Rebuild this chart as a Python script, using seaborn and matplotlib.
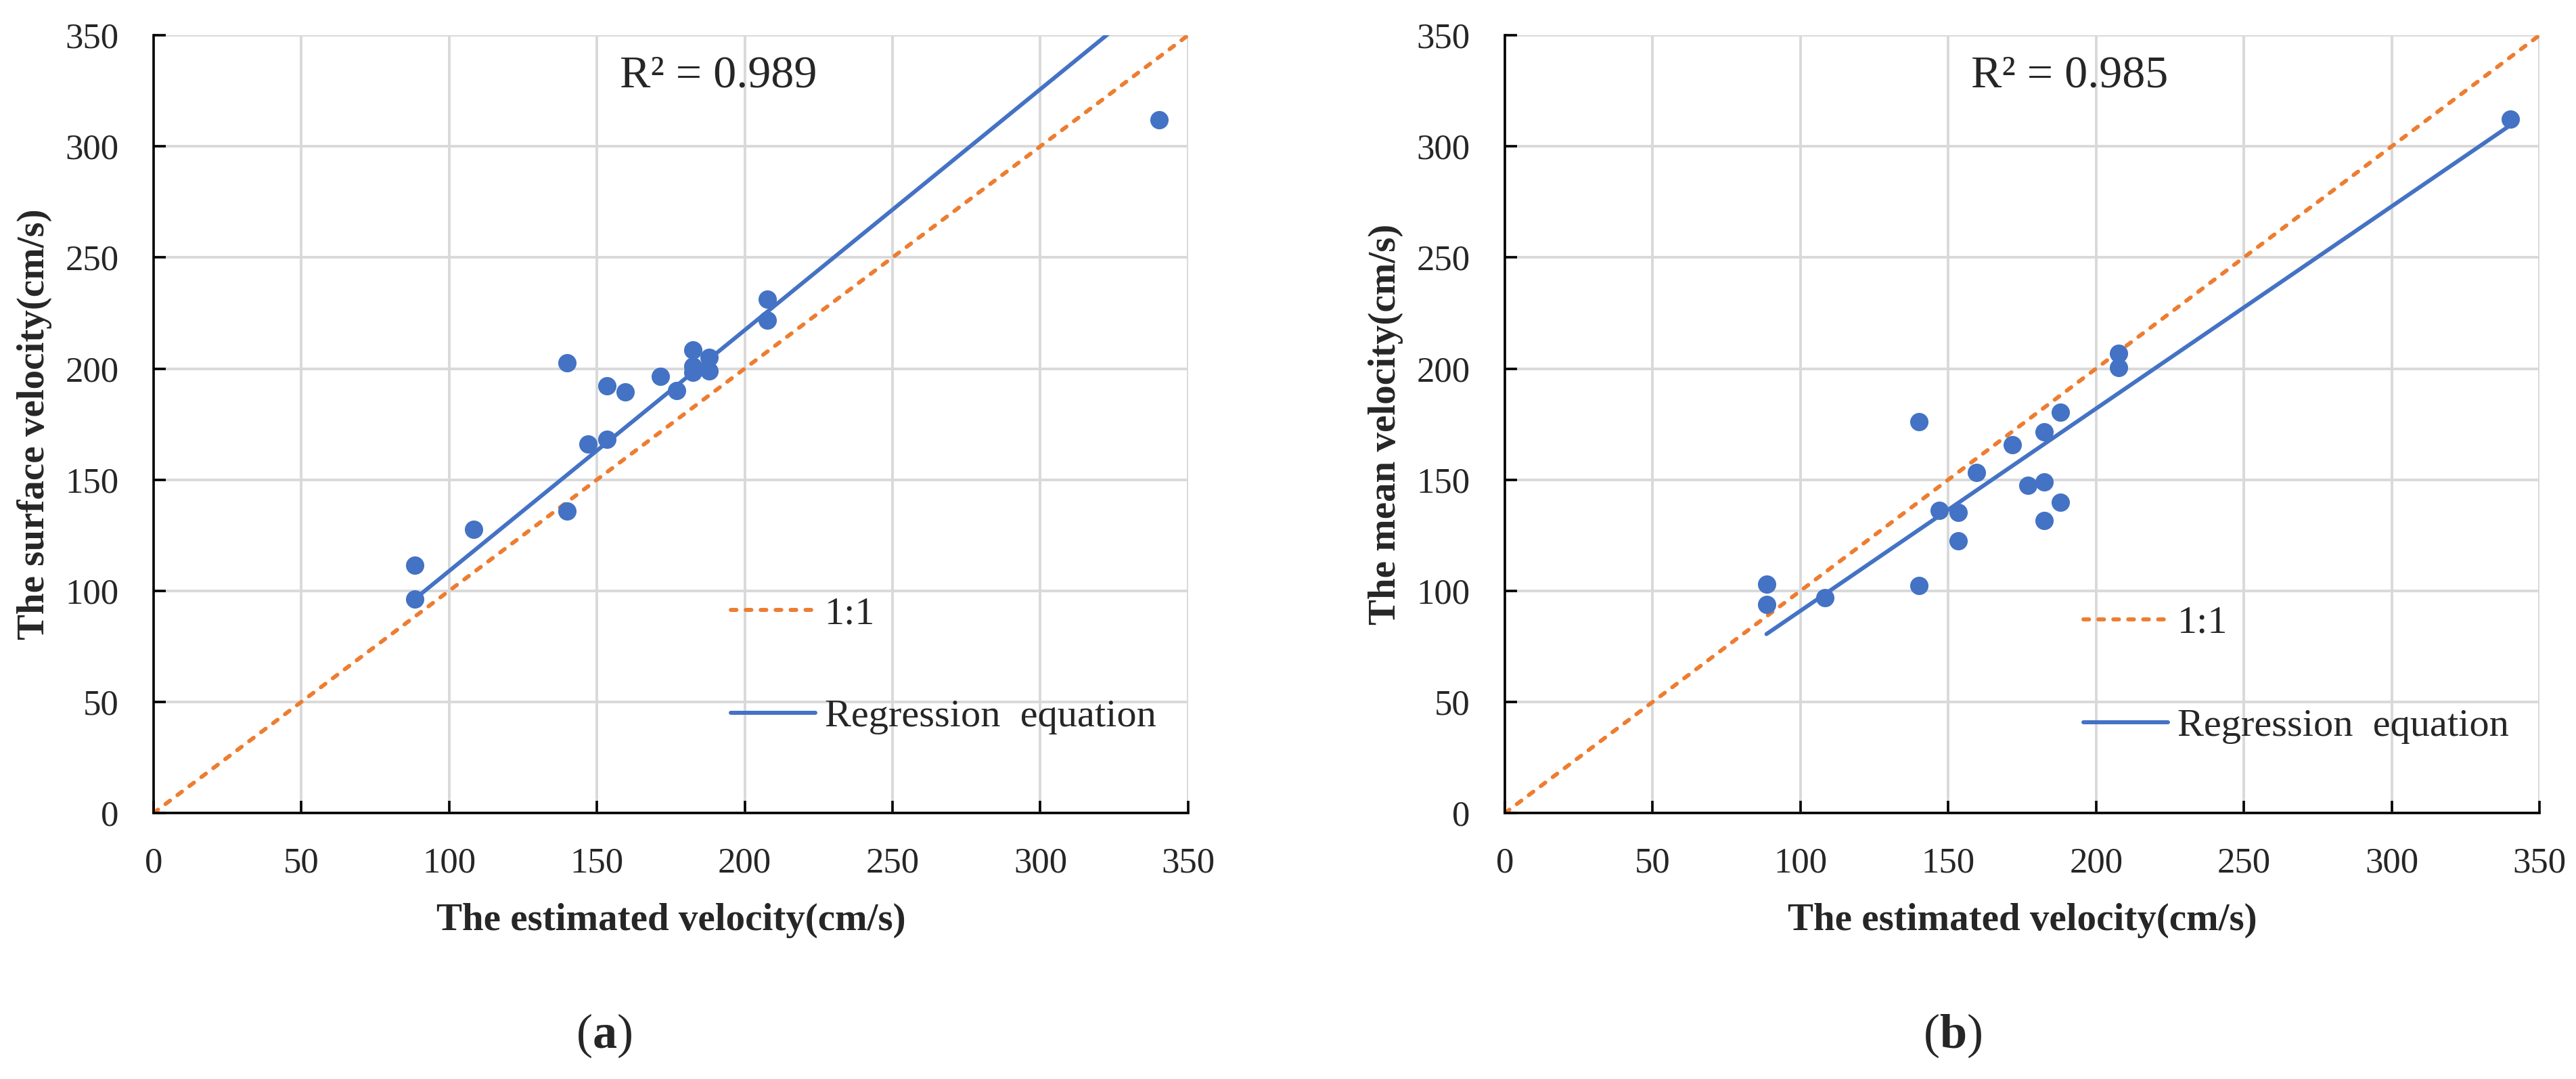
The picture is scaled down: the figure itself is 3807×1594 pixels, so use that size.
"""
Two scatter panels: estimated velocity vs. surface / mean velocity,
with a 1:1 reference line and the fitted regression line.
"""

import matplotlib.pyplot as plt
import numpy as np
import pandas as pd
import seaborn as sns

# ---- data ----
estimated = [88.5, 88.5, 108.2, 140.0, 140.0, 147.0, 153.3, 153.3, 159.5,
             171.6, 177.0, 182.5, 182.5, 182.5, 188.0, 188.0, 207.6, 207.6, 340.1]
surface = [111.5, 96.4, 127.6, 135.9, 202.7, 165.9, 168.1, 192.2, 189.6,
           196.6, 190.2, 208.3, 201.2, 198.3, 205.1, 199.0, 231.3, 221.8, 312.1]
mean = [102.9, 93.8, 96.8, 102.4, 176.1, 136.1, 135.2, 122.4, 153.1,
        165.8, 147.6, 171.4, 149.1, 131.5, 180.4, 139.8, 207.0, 200.4, 312.3]

# regression lines as drawn (slope, intercept)
trend_a = (1.084, 0.5)
trend_b = (0.910, 0.0)
r2_a = 0.989
r2_b = 0.985

axis_ticks = [0, 50, 100, 150, 200, 250, 300, 350]

BLUE = "#4472C4"
ORANGE = "#ED7D31"
GRID = "#D9D9D9"

sns.set_style("whitegrid")
plt.rcParams["font.family"] = ["Liberation Serif", "DejaVu Serif"]
plt.rcParams["mathtext.fontset"] = "custom"
plt.rcParams["mathtext.rm"] = "Liberation Serif"
plt.rcParams["mathtext.bf"] = "Liberation Serif:bold"

TICK_FS = 38
LABEL_FS = 41
LEGEND_FS = 42
R2_FS = 49
PANEL_FS = 52
LINE_W = 4.3


def draw_panel(ax, y, trend, r2, ylabel, legend_anchor):
    df = pd.DataFrame({"est": estimated, "obs": y})

    # 1:1 line across the full axis
    lim = axis_ticks[-1]
    one = pd.DataFrame({"x": [axis_ticks[0], lim], "y": [axis_ticks[0], lim]})
    sns.lineplot(data=one, x="x", y="y", ax=ax, color=ORANGE, linewidth=LINE_W,
                 label="1:1", zorder=3)
    dash = ax.lines[-1]
    dash.set_dashes((1.4, 2.3))
    dash.set_dash_capstyle("round")

    # regression line over the data range
    slope, icpt = trend
    xs = np.array([min(estimated), max(estimated)])
    reg = pd.DataFrame({"x": xs, "y": slope * xs + icpt})
    sns.lineplot(data=reg, x="x", y="y", ax=ax, color=BLUE, linewidth=LINE_W,
                 label="Regression  equation", zorder=3)
    ax.lines[-1].set_solid_capstyle("round")

    sns.scatterplot(data=df, x="est", y="obs", ax=ax, color=BLUE, s=380,
                    linewidth=0, zorder=4, legend=False)

    ax.set_xlim(axis_ticks[0], lim)
    ax.set_ylim(axis_ticks[0], lim)
    ax.set_xticks(axis_ticks)
    ax.set_yticks(axis_ticks)
    ax.grid(True, color=GRID, lw=2.8)
    ax.set_axisbelow(True)

    for side in ("top", "right"):
        ax.spines[side].set_visible(False)
    for side in ("left", "bottom"):
        ax.spines[side].set_color("black")
        ax.spines[side].set_linewidth(2.6)
        ax.spines[side].set_zorder(5)

    ax.tick_params(axis="both", direction="in", length=13, width=2.6,
                   color="black", labelsize=TICK_FS, pad=37,
                   bottom=True, left=True)
    ax.tick_params(axis="x", pad=36)

    ax.set_xlabel("The estimated velocity(cm/s)", fontsize=LABEL_FS,
                  fontweight="bold", labelpad=25)
    ax.set_ylabel(ylabel, fontsize=LABEL_FS, fontweight="bold", labelpad=14)

    ax.text(0.546, 0.948, f"R² = {r2:.3f}", transform=ax.transAxes,
            fontsize=R2_FS, ha="center", va="center")

    leg = ax.legend(loc="center left", bbox_to_anchor=legend_anchor,
                    frameon=False, fontsize=LEGEND_FS, handlelength=2.15,
                    handletextpad=0.23, labelspacing=1.7, borderpad=0,
                    borderaxespad=0)
    handles = leg.legend_handles
    handles[0].set_dashes((1.4, 2.3))
    handles[0].set_dash_capstyle("round")
    handles[1].set_solid_capstyle("round")


fig = plt.figure(figsize=(38.07, 15.94), dpi=100)
ax_a = fig.add_axes([0.0596, 0.2465, 0.4016, 0.7208])
ax_b = fig.add_axes([0.5842, 0.2465, 0.4016, 0.7208])

draw_panel(ax_a, surface, trend_a, r2_a, "The surface velocity(cm/s)",
           (0.558, 0.190))
draw_panel(ax_b, mean, trend_b, r2_b, "The mean velocity(cm/s)",
           (0.559, 0.178))

fig.text(0.2345, 0.040, r"($\mathbf{a}$)", fontsize=PANEL_FS,
         ha="center", va="center")
fig.text(0.758, 0.040, r"($\mathbf{b}$)", fontsize=PANEL_FS,
         ha="center", va="center")

fig.savefig("out.png", dpi=100)
